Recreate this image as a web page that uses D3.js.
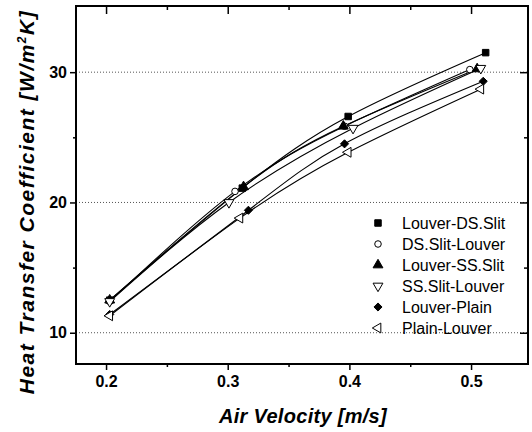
<!DOCTYPE html>
<html>
<head>
<meta charset="utf-8">
<script src="https://cdn.jsdelivr.net/npm/d3@7"></script>
<style>
  body { margin: 0; background: #fff; }
  svg text { font-family: "Liberation Sans", Arial, sans-serif; fill: #000; }
</style>
</head>
<body>
<div id="chartDiv"></div>
<script>
// data: air velocity [m/s] vs heat transfer coefficient [W/m2K]
var seriesNames = ["Louver-DS.Slit", "DS.Slit-Louver", "Louver-SS.Slit", "SS.Slit-Louver", "Louver-Plain", "Plain-Louver"];
var louverDSSlitX = [0.203, 0.312, 0.399, 0.512];
var louverDSSlitY = [12.5, 21.1, 26.6, 31.5];
var dsSlitLouverX = [0.203, 0.306, 0.396, 0.499];
var dsSlitLouverY = [12.4, 20.85, 25.85, 30.2];
var louverSSSlitX = [0.203, 0.313, 0.395, 0.505];
var louverSSSlitY = [12.5, 21.2, 25.85, 30.25];
var ssSlitLouverX = [0.203, 0.301, 0.403, 0.508];
var ssSlitLouverY = [12.4, 20.0, 25.7, 30.3];
var louverPlainX = [0.203, 0.317, 0.396, 0.510];
var louverPlainY = [11.4, 19.4, 24.5, 29.3];
var plainLouverX = [0.203, 0.310, 0.399, 0.508];
var plainLouverY = [11.3, 18.8, 23.85, 28.7];

var xTicks = [0.2, 0.3, 0.4, 0.5];
var xMinor = [0.25, 0.35, 0.45];
var yTicks = [10, 20, 30];
var yMinor = [15, 25];

var seriesX = [louverDSSlitX, dsSlitLouverX, louverSSSlitX, ssSlitLouverX, louverPlainX, plainLouverX];
var seriesY = [louverDSSlitY, dsSlitLouverY, louverSSSlitY, ssSlitLouverY, louverPlainY, plainLouverY];

// marker styles: [symbol, filled, rotation]
var markers = [
	[d3.symbolSquare, true, 0],
	[d3.symbolCircle, false, 0],
	[d3.symbolTriangle, true, 0],
	[d3.symbolTriangle, false, 180],
	[d3.symbolDiamond2 || d3.symbolDiamond, true, 0],
	[d3.symbolTriangle, false, -90]
];

var W = 532, H = 432;
var margin = {top: 6, right: 4, bottom: 68, left: 76},
    width = W - margin.left - margin.right,
    height = H - margin.top - margin.bottom;

var x = d3.scaleLinear().domain([0.1753, 0.5468]).range([0, width]);
var y = d3.scaleLinear().domain([7.6, 35.08]).range([height, 0]);

var svg = d3.select("#chartDiv").append("svg")
	.attr("width", W)
	.attr("height", H);

var g = svg.append("g")
	.attr("transform", "translate(" + margin.left + "," + margin.top + ")");

// dotted grid lines
g.selectAll(".grid")
	.data(yTicks)
	.enter().append("line")
	.attr("x1", 0).attr("x2", width)
	.attr("y1", function(d) { return y(d); })
	.attr("y2", function(d) { return y(d); })
	.attr("stroke", "#555")
	.attr("stroke-width", 1)
	.attr("stroke-dasharray", "1,2");

// lines through each series
var line = d3.line()
	.x(function(d) { return x(d[0]); })
	.y(function(d) { return y(d[1]); })
	.curve(d3.curveNatural);

seriesX.forEach(function(xs, i) {
	var pts = xs.map(function(v, j) { return [v, seriesY[i][j]]; });
	g.append("path")
		.datum(pts)
		.attr("d", line)
		.attr("fill", "none")
		.attr("stroke", "#000")
		.attr("stroke-width", 1.1);
});

function drawMarker(sel, m, px, py) {
	sel.append("path")
		.attr("d", d3.symbol().type(m[0]).size(m[0] == d3.symbolCircle ? 34 : 42)())
		.attr("transform", "translate(" + px + "," + py + ") rotate(" + m[2] + ")")
		.attr("fill", m[1] ? "#000" : "#fff")
		.attr("stroke", "#000")
		.attr("stroke-width", 1);
}

seriesX.forEach(function(xs, i) {
	xs.forEach(function(v, j) {
		drawMarker(g, markers[i], x(v), y(seriesY[i][j]));
	});
});

// axes
function styleAxis(a) {
	a.select(".domain").remove();
	a.selectAll(".tick line").attr("stroke", "#000").attr("stroke-width", 1.5);
	a.selectAll("text")
		.style("font-size", "16px")
		.style("font-weight", "bold");
}

g.append("g")
	.attr("transform", "translate(0," + height + ")")
	.call(d3.axisBottom(x).tickValues(xTicks).tickSize(6).tickPadding(6).tickFormat(d3.format(".1f")))
	.call(styleAxis);
g.append("g")
	.attr("transform", "translate(0," + height + ")")
	.call(d3.axisBottom(x).tickValues(xMinor).tickSize(3).tickFormat(""))
	.call(styleAxis);
g.append("g")
	.call(d3.axisTop(x).tickValues(xTicks).tickSize(-8).tickFormat(""))
	.call(styleAxis);
g.append("g")
	.call(d3.axisTop(x).tickValues(xMinor).tickSize(-4).tickFormat(""))
	.call(styleAxis);

g.append("g")
	.call(d3.axisLeft(y).tickValues(yTicks).tickSize(6).tickPadding(3).tickFormat(d3.format("d")))
	.call(styleAxis);
g.append("g")
	.call(d3.axisLeft(y).tickValues(yMinor).tickSize(3).tickFormat(""))
	.call(styleAxis);
g.append("g")
	.attr("transform", "translate(" + width + ",0)")
	.call(d3.axisRight(y).tickValues(yTicks).tickSize(-8).tickFormat(""))
	.call(styleAxis);
g.append("g")
	.attr("transform", "translate(" + width + ",0)")
	.call(d3.axisRight(y).tickValues(yMinor).tickSize(-4).tickFormat(""))
	.call(styleAxis);

// frame
g.append("rect")
	.attr("width", width)
	.attr("height", height)
	.attr("fill", "none")
	.attr("stroke", "#000")
	.attr("stroke-width", 2);

// legend
var legend = svg.append("g");
seriesNames.forEach(function(name, i) {
	var ly = 223 + i * 21;
	drawMarker(legend, markers[i], 378, ly);
	legend.append("text")
		.attr("x", 402)
		.attr("y", ly + 6)
		.style("font-size", "16px")
		.text(name);
});

// axis titles
svg.append("text")
	.attr("x", 303)
	.attr("y", 423)
	.attr("text-anchor", "middle")
	.style("font-size", "20px")
	.style("letter-spacing", "0.3px")
	.style("font-weight", "bold")
	.style("font-style", "italic")
	.text("Air Velocity [m/s]");

var yt = svg.append("text")
	.attr("transform", "translate(34,202) rotate(-90)")
	.attr("text-anchor", "middle")
	.style("font-size", "21px")
	.style("letter-spacing", "1.5px")
	.style("font-weight", "bold")
	.style("font-style", "italic");
yt.append("tspan").text("Heat Transfer Coefficient  [W/m");
yt.append("tspan").attr("dy", -8).style("font-size", "12px").text("2");
yt.append("tspan").attr("dy", 8).text("K]");
</script>
</body>
</html>
